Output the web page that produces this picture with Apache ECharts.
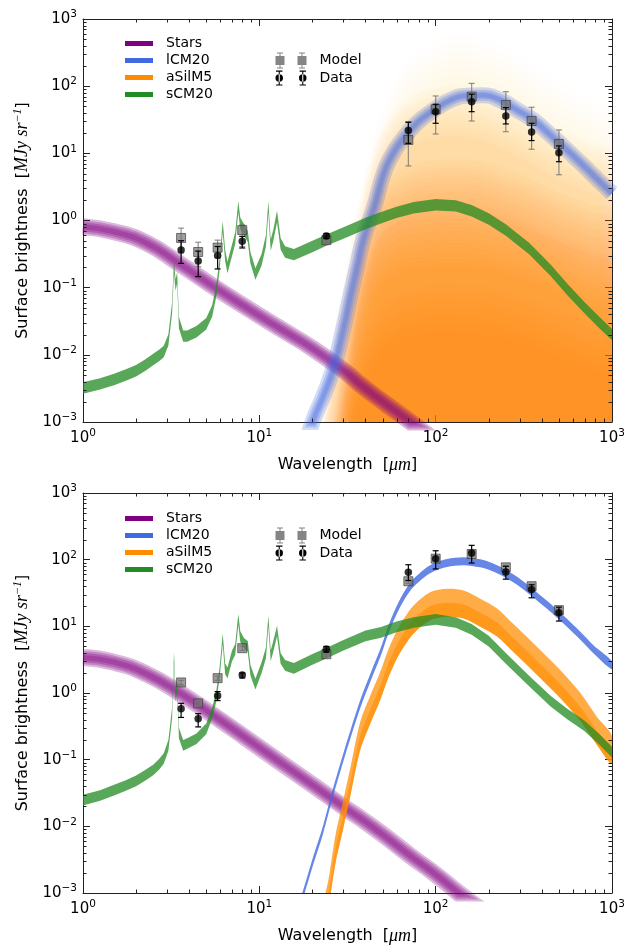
<!DOCTYPE html>
<html><head><meta charset="utf-8">
<script src="https://cdn.jsdelivr.net/npm/echarts@6/dist/echarts.min.js"></script>
<style>html,body{margin:0;padding:0;background:#fff}#c{width:640px;height:946px}</style>
</head><body><div id="c"></div>
<script>
// ---------------- data ----------------
const minorX = [2,3,4,5,6,7,8,9,20,30,40,50,60,70,80,90,200,300,400,500,600,700,800,900];
const minorY = [0.002,0.003,0.004,0.005,0.006,0.007,0.008,0.009,0.02,0.03,0.04,0.05,0.06,0.07,0.08,0.09,
  0.2,0.3,0.4,0.5,0.6,0.7,0.8,0.9,2,3,4,5,6,7,8,9,20,30,40,50,60,70,80,90,200,300,400,500,600,700,800,900];

// Stars
const starsX   = [1, 1.5, 2.3, 3.5, 5.5, 8.5, 13, 20, 31, 37, 49, 72, 100, 135, 200, 300];
const starsTop = [0.81, 0.68, 0.46, 0.23, 0.104, 0.05, 0.025, 0.0125, 0.0055, 0.0037, 0.0021, 0.001, 0.00052, 0.00029, 0.00013, 0.00006];
const starsBot = [3.4, 2.9, 1.92, 1.02, 0.46, 0.206, 0.093, 0.042, 0.0185, 0.0135, 0.0079, 0.0036, 0.0019, 0.001, 0.00046, 0.0002];

// sCM20
const greenX = [1,1.25,1.5,1.75,2.0,2.25,2.5,2.7,2.87,3.05,3.2,3.28,3.35,3.42,3.5,3.7,3.9,4.4,5.0,5.4,5.7,5.95,6.2,6.4,6.6,7.0,7.3,7.6,7.8,8.2,8.6,8.9,9.5,10.3,10.9,11.25,11.6,12.0,12.6,13.2,14.0,15.7,20,24,30,40,49,60,75,100,130,160,200,250,340,450,560,700,850,1000];
const greenTop = [0.0032,0.0037,0.0043,0.005,0.0058,0.007,0.0085,0.0098,0.0112,0.0167,0.05,0.2,0.11,0.14,0.03,0.019,0.019,0.022,0.029,0.045,0.09,0.22,0.81,0.3,0.2,0.36,0.55,1.6,0.9,0.72,0.58,0.28,0.16,0.26,0.5,1.6,0.43,0.6,1.15,0.45,0.34,0.31,0.41,0.51,0.65,0.9,1.1,1.32,1.55,1.72,1.65,1.4,1.05,0.72,0.38,0.18,0.093,0.05,0.03,0.02];
const greenBot = [0.0247,0.029,0.035,0.041,0.048,0.058,0.07,0.085,0.104,0.164,0.5,3.4,0.9,1.2,0.25,0.164,0.175,0.206,0.29,0.5,0.9,2.0,6.5,2.3,2.0,3.6,4.5,12.7,7,5.5,5.0,2.2,1.36,2.4,4,12,3.6,5,8.5,3.3,2.6,2.34,3.2,3.95,5.2,7.2,8.1,9.8,11.4,12.7,11.4,9.0,6.0,3.3,1.5,0.75,0.48,0.32,0.2,0.13];

// lCM20
const blueTopX = [18,20.3,23,26.4,30,33,36,39,44.5,50.7,56,63,78,97.5,121,150,187,233,290,360,450,556,700,860,1000];
const blueTopY = [0.0004,0.0011,0.0024,0.0065,0.025,0.08,0.22,0.55,1.5,5,9,14.5,28,44,62,72,73,62,44,31,18.5,11.2,6.3,3.7,2.55];
const blueBotX = [16,17.8,20,23,26.4,30,33,37.4,43,48.6,54,60.4,67,75,93,116,144,179,223,277,344,428,532,661,787,1000];
const blueBotY = [0.0004,0.001,0.0028,0.009,0.035,0.11,0.25,0.69,1.8,4.0,9,18,30,45,72,89,95,88,72,52,34,21,12.5,7.2,4.5,2.6];

// aSilM5 (bottom: median curve; top: density contours of the sample cloud)
const aSilBotX = [23,24.7,27,30,33,37.4,43,48.6,54,60.4,67,75,93,116,144,179,223,277,344,428,532,661,822,1000];
const aSilBotY = [0.0004,0.001,0.0045,0.0156,0.05,0.23,0.6,1.3,2.8,5.4,8.5,12.7,20,22.6,21.3,16,11.4,6.6,3.8,2.15,1.2,0.62,0.27,0.14];
const aSilTopX = [18,20,22,24,26,28,30,33,36,40,45,50,60,70,85,100,125,155,190,240,300,380,480,600,760,1000];
const aSilTopC1 = [0.0002,0.0005,0.001,0.0025,0.008,0.025,0.06,0.25,0.8,2.8,9,20,60,100,160,210,250,250,220,170,120,80,55,38,27,19];
const aSilTopC2 = [0.00001,0.00003,0.0002,0.001,0.004,0.015,0.04,0.15,0.45,1.6,5,10,20,28,36,40,42,40,35,27,20,14,10,7.5,6,4.5];
const aSilTopC3 = [0.000001,0.000003,0.00002,0.0001,0.0004,0.0015,0.005,0.025,0.1,0.35,0.9,1.5,2.3,2.8,3.2,3.4,3.5,3.4,3.1,2.6,2.1,1.6,1.2,0.95,0.75,0.6];
const aSilTopC4 = [0.0000001,0.000001,0.000003,0.00001,0.00004,0.0002,0.001,0.005,0.02,0.07,0.18,0.28,0.4,0.46,0.5,0.52,0.53,0.52,0.48,0.42,0.35,0.28,0.22,0.17,0.13,0.1];
const aSilTopC5 = [1e-8,1e-7,5e-7,2e-6,6e-6,0.00002,0.0001,0.001,0.003,0.008,0.016,0.024,0.035,0.042,0.047,0.05,0.05,0.049,0.046,0.04,0.034,0.028,0.022,0.017,0.013,0.01];

// photometry
const bands = [3.6, 4.5, 5.8, 8.0, 24, 70, 100, 160, 250, 350, 500];
const modelTop   = [0.55, 0.34, 0.395, 0.72, 0.51, 15.8, 45.3, 69.8, 52.6, 30.3, 13.8];
const modelTopLo = [0.33, 0.205, 0.28, 0.41, 0.47, 6.5, 19.4, 30.3, 21, 11.5, 4.8];
const modelTopHi = [0.77, 0.475, 0.51, 0.86, 0.55, 29.6, 71.5, 110, 82.8, 48.5, 22.3];
const dataTop    = [0.365, 0.25, 0.30, 0.49, 0.59, 21.8, 41.7, 58.8, 36, 20.8, 10.2];
const dataTopLo  = [0.23, 0.146, 0.19, 0.39, 0.54, 14.1, 28, 41.7, 27.4, 15.5, 7.5];
const dataTopHi  = [0.5, 0.35, 0.41, 0.58, 0.64, 29, 53.8, 76, 48, 28, 12.9];
const modelBot   = [1.44, 0.70, 1.67, 4.7, 3.82, 47.5, 103.5, 121.6, 76.7, 40, 17.5];
const modelBotLo = [1.33, 0.65, 1.55, 4.35, 3.55, 44, 96, 113, 71, 37, 16.2];
const modelBotHi = [1.55, 0.75, 1.79, 5.05, 4.1, 51, 111, 130, 82, 43, 18.8];
const dataBot    = [0.58, 0.41, 0.91, 1.86, 4.54, 64.7, 103, 126, 65.5, 35.7, 16];
const dataBotLo  = [0.43, 0.31, 0.77, 1.68, 4.1, 48.6, 72.6, 89, 51, 26.8, 12];
const dataBotHi  = [0.70, 0.49, 1.05, 2.0, 5.0, 84, 136, 164, 79.5, 42, 19.4];

// ---------------- styling / builders ----------------
const FONT = 'DejaVu Sans';
const C_PURPLE = '#800080', C_BLUE = '#4169e1', C_ORANGE = '#ff8c00', C_GREEN = '#228b22';
const AX = '#222';
const GRIDS = [{left:83, top:19, width:529, height:403}, {left:83, top:493, width:529, height:402}];

function supLabel(v) {
  const e = Math.round(Math.log10(v));
  return '{b|10}{s|' + (e < 0 ? '\u2212' + (-e) : e) + '}';
}
const labelRich = {
  b: {fontFamily: FONT, fontSize: 15, color: '#000'},
  s: {fontFamily: FONT, fontSize: 10.5, color: '#000', padding: [0, 0, 9, 0]}
};

const xAxes = [], yAxes = [];
GRIDS.forEach((g, gi) => {
  const xb = {gridIndex: gi, type: 'log', logBase: 10, min: 1, max: 1000, splitLine: {show: false}};
  xAxes.push(Object.assign({}, xb, {
    position: 'bottom',
    axisLine: {show: true, onZero: false, lineStyle: {color: AX, width: 1}},
    axisTick: {show: true, inside: true, length: 7, lineStyle: {color: AX}},
    axisLabel: {show: true, margin: 6, formatter: supLabel, rich: labelRich},
    name: 'Wavelength  [{i|\u03bcm}]', nameLocation: 'middle', nameGap: 34,
    nameTextStyle: {fontFamily: FONT, fontSize: 16, color: '#000',
      rich: {i: {fontFamily: 'Liberation Serif', fontStyle: 'italic', fontSize: 18, color: '#000'}}}
  }));
  xAxes.push(Object.assign({}, xb, {
    position: 'top',
    axisLine: {show: true, onZero: false, lineStyle: {color: AX, width: 1}},
    axisTick: {show: true, inside: true, length: 7, lineStyle: {color: AX}},
    axisLabel: {show: false}
  }));
  const yb = {gridIndex: gi, type: 'log', logBase: 10, min: 0.001, max: 1000, splitLine: {show: false}};
  yAxes.push(Object.assign({}, yb, {
    position: 'left',
    axisLine: {show: true, onZero: false, lineStyle: {color: AX, width: 1}},
    axisTick: {show: true, inside: true, length: 7, lineStyle: {color: AX}},
    axisLabel: {show: true, margin: 6, formatter: supLabel, rich: labelRich},
    name: 'Surface brightness  [{i|MJy sr}{s|\u22121}]', nameLocation: 'middle', nameGap: 47,
    nameTextStyle: {fontFamily: FONT, fontSize: 16, color: '#000',
      rich: {i: {fontFamily: 'Liberation Serif', fontStyle: 'italic', fontSize: 18, color: '#000'},
             s: {fontFamily: 'Liberation Serif', fontStyle: 'italic', fontSize: 12, color: '#000', padding: [0, 0, 10, 0]}}}
  }));
  yAxes.push(Object.assign({}, yb, {
    position: 'right',
    axisLine: {show: true, onZero: false, lineStyle: {color: AX, width: 1}},
    axisTick: {show: true, inside: true, length: 7, lineStyle: {color: AX}},
    axisLabel: {show: false}
  }));
});

function clipOf(params) {
  const c = params.coordSys;
  return {type: 'rect', shape: {x: c.x, y: c.y, width: c.width, height: c.height}};
}
// minor ticks (matplotlib style, inside, on all four sides) placed through the log scales
function minorTicks(gi) {
  const st = {stroke: AX, lineWidth: 1};
  const L = 3.5;
  return [
    {type: 'custom', xAxisIndex: gi * 2, yAxisIndex: gi * 2, z: 20, silent: true,
     data: minorX.map(v => [v, 1]),
     renderItem(params, api) {
       const c = params.coordSys;
       const x = Math.round(api.coord([api.value(0), 1])[0]) + 0.5;
       return {type: 'group', children: [
         {type: 'line', shape: {x1: x, y1: c.y + c.height, x2: x, y2: c.y + c.height - L}, style: st},
         {type: 'line', shape: {x1: x, y1: c.y, x2: x, y2: c.y + L}, style: st}]};
     }},
    {type: 'custom', xAxisIndex: gi * 2, yAxisIndex: gi * 2, z: 20, silent: true,
     data: minorY.map(v => [1, v]),
     renderItem(params, api) {
       const c = params.coordSys;
       const y = Math.round(api.coord([1, api.value(1)])[1]) + 0.5;
       return {type: 'group', children: [
         {type: 'line', shape: {x1: c.x, y1: y, x2: c.x + L, y2: y}, style: st},
         {type: 'line', shape: {x1: c.x + c.width, y1: y, x2: c.x + c.width - L, y2: y}, style: st}]};
     }}
  ];
}

// band of vertical half-width (dex) around a curve
function band2(name, gi, xs, ys, loDex, hiDex, color, opacity, z, smooth) {
  const fl = Math.pow(10, loDex), fh = Math.pow(10, hiDex);
  return {
    type: 'custom', name, xAxisIndex: gi * 2, yAxisIndex: gi * 2, z, silent: true,
    data: [[xs[0], ys[0]]],
    renderItem(params, api) {
      const up = [], lo = [];
      for (let i = 0; i < xs.length; i++) {
        up.push(api.coord([xs[i], ys[i] * fh]));
        lo.push(api.coord([xs[i], ys[i] / fl]));
      }
      const shape = {points: up.concat(lo.reverse())};
      if (smooth) shape.smooth = smooth;
      return {type: 'polygon', shape, style: {fill: color, opacity}, clipPath: clipOf(params)};
    }
  };
}
function band(name, gi, xs, ys, halfDex, color, opacity, z, smooth) {
  return band2(name, gi, xs, ys, halfDex, halfDex, color, opacity, z, smooth);
}
// fuzzy curve: several overlapping translucent strokes
function fuzzyLine(name, gi, xs, ys, widths, color, opacity, z) {
  return widths.map(w => ({
    type: 'line', name, xAxisIndex: gi * 2, yAxisIndex: gi * 2, z, silent: true,
    data: xs.map((x, i) => [x, ys[i]]), smooth: 0.5, showSymbol: false, symbol: 'none',
    lineStyle: {color, width: w, opacity, cap: 'butt', join: 'round'}
  }));
}
// one density level of the aSilM5 sample cloud, softened by a vertical smear centred on the level
function cloudLayer(gi, ys, a) {
  const N = 7, STEP = 8;
  const b = 1 - Math.pow(1 - a, 1 / N);
  return {
    type: 'custom', name: 'aSilM5', xAxisIndex: gi * 2, yAxisIndex: gi * 2, z: 1, silent: true,
    data: [[aSilTopX[0], ys[0]]],
    renderItem(params, api) {
      const c = params.coordSys;
      const pts = aSilTopX.map((x, i) => api.coord([x, ys[i]]));
      const base = c.y + c.height + 500;
      const children = [];
      for (let j = 0; j < N; j++) {
        const dy = (j - (N - 1) / 2) * STEP;
        const p = pts.map(q => [q[0], q[1] + dy]);
        p.push([p[p.length - 1][0], base], [p[0][0], base]);
        children.push({type: 'polygon', shape: {points: p, smooth: 0.35},
          style: {fill: C_ORANGE, opacity: b, shadowBlur: 10, shadowColor: 'rgba(255,140,0,0.4)'},
          clipPath: clipOf(params)});
      }
      return {type: 'group', children};
    }
  };
}
function errBars(name, gi, lo, hi, color, z) {
  return {
    type: 'custom', name, xAxisIndex: gi * 2, yAxisIndex: gi * 2, z, silent: true,
    data: bands.map((x, i) => [x, lo[i], hi[i]]),
    encode: {x: 0, y: [1, 2]},
    renderItem(params, api) {
      const x = api.value(0);
      const a = api.coord([x, api.value(1)]), b = api.coord([x, api.value(2)]);
      const st = {stroke: color, lineWidth: 1.2};
      return {type: 'group', children: [
        {type: 'line', shape: {x1: a[0], y1: a[1], x2: b[0], y2: b[1]}, style: st},
        {type: 'line', shape: {x1: a[0] - 3, y1: a[1], x2: a[0] + 3, y2: a[1]}, style: st},
        {type: 'line', shape: {x1: b[0] - 3, y1: b[1], x2: b[0] + 3, y2: b[1]}, style: st}
      ]};
    }
  };
}
function points(gi, model, data) {
  return [
    {type: 'scatter', name: 'Model', xAxisIndex: gi * 2, yAxisIndex: gi * 2, z: 6, silent: true,
     data: bands.map((x, i) => [x, model[i]]), symbol: 'rect', symbolSize: 9,
     itemStyle: {color: 'rgba(112,112,112,0.85)', borderColor: 'rgba(60,60,60,0.85)', borderWidth: 1}},
    {type: 'scatter', name: 'Data', xAxisIndex: gi * 2, yAxisIndex: gi * 2, z: 8, silent: true,
     data: bands.map((x, i) => [x, data[i]]), symbol: 'circle', symbolSize: 7.5,
     itemStyle: {color: '#000'}}
  ];
}

const series = [];
// ---- top panel ----
series.push(cloudLayer(0, aSilTopC1, 0.07), cloudLayer(0, aSilTopC2, 0.17), cloudLayer(0, aSilTopC3, 0.25),
            cloudLayer(0, aSilTopC4, 0.3), cloudLayer(0, aSilTopC5, 0.22));
series.push(...fuzzyLine('Stars', 0, starsX, starsTop, [17, 13, 9, 5], C_PURPLE, 0.28, 2));
series.push(...fuzzyLine('lCM20', 0, blueTopX, blueTopY, [16, 11, 7, 4], C_BLUE, 0.24, 3));
series.push(band('sCM20', 0, greenX, greenTop, 0.085, C_GREEN, 0.75, 4));
series.push(errBars('Model', 0, modelTopLo, modelTopHi, 'rgba(110,110,110,0.75)', 5));
series.push(errBars('Data', 0, dataTopLo, dataTopHi, '#000', 7));
series.push(...points(0, modelTop, dataTop));
series.push(...minorTicks(0));
// ---- bottom panel ----
series.push(...fuzzyLine('Stars', 1, starsX, starsBot, [17, 13, 9, 5], C_PURPLE, 0.28, 2));
series.push(band2('aSilM5', 1, aSilBotX, aSilBotY, 0.21, 0.21, C_ORANGE, 0.72, 3, 0.3));
series.push(band2('aSilM5', 1, aSilBotX, aSilBotY, 0.21, 0.0, C_ORANGE, 0.6, 3, 0.3));
series.push(band('lCM20', 1, blueBotX, blueBotY, 0.06, C_BLUE, 0.8, 3, 0.3));
series.push(band('sCM20', 1, greenX, greenBot, 0.08, C_GREEN, 0.75, 4));
series.push(errBars('Model', 1, modelBotLo, modelBotHi, 'rgba(110,110,110,0.75)', 5));
series.push(errBars('Data', 1, dataBotLo, dataBotHi, '#000', 7));
series.push(...points(1, modelBot, dataBot));
series.push(...minorTicks(1));

const ICON_MODEL = 'path://M0 3.5h9v9h-9z M22 3.5h9v9h-9z M4 0h1v16h-1z M26 0h1v16h-1z M1.5 0h6v1h-6z M1.5 15h6v1h-6z M23.5 0h6v1h-6z M23.5 15h6v1h-6z';
const ICON_DATA = 'path://M1 8a3.5 3.5 0 1 0 7 0a3.5 3.5 0 1 0 -7 0z M23 8a3.5 3.5 0 1 0 7 0a3.5 3.5 0 1 0 -7 0z M4 1h1v14h-1z M26 1h1v14h-1z M1.5 1h6v1h-6z M1.5 14h6v1h-6z M23.5 1h6v1h-6z M23.5 14h6v1h-6z';

function lineLegend(top) {
  return {
    left: 125, top, orient: 'vertical', padding: 0, itemWidth: 28, itemHeight: 5, itemGap: 0,
    selectedMode: false,
    textStyle: {fontFamily: FONT, fontSize: 14, color: '#000', lineHeight: 17, padding: [0, 0, 0, 8]},
    data: [
      {name: 'Stars', icon: 'rect', itemStyle: {color: C_PURPLE}},
      {name: 'lCM20', icon: 'rect', itemStyle: {color: C_BLUE}},
      {name: 'aSilM5', icon: 'rect', itemStyle: {color: C_ORANGE}},
      {name: 'sCM20', icon: 'rect', itemStyle: {color: C_GREEN}}
    ]
  };
}
function ptLegend(top) {
  return {
    left: 275.5, top, orient: 'vertical', padding: 0, itemWidth: 31, itemHeight: 16, itemGap: 0.6,
    selectedMode: false,
    textStyle: {fontFamily: FONT, fontSize: 14, color: '#000', lineHeight: 17, padding: [0, 0, 0, 8]},
    data: [
      {name: 'Model', icon: ICON_MODEL, itemStyle: {color: 'rgba(112,112,112,0.85)', borderWidth: 0}},
      {name: 'Data', icon: ICON_DATA, itemStyle: {color: '#000', borderWidth: 0}}
    ]
  };
}

const option = {
  animation: false,
  backgroundColor: '#fff',
  grid: GRIDS,
  xAxis: xAxes,
  yAxis: yAxes,
  legend: [lineLegend(35), ptLegend(52), lineLegend(510), ptLegend(527)],
  series
};
const chart = echarts.init(document.getElementById('c'), null, {renderer: 'canvas'});
chart.setOption(option);
</script>
</body></html>
